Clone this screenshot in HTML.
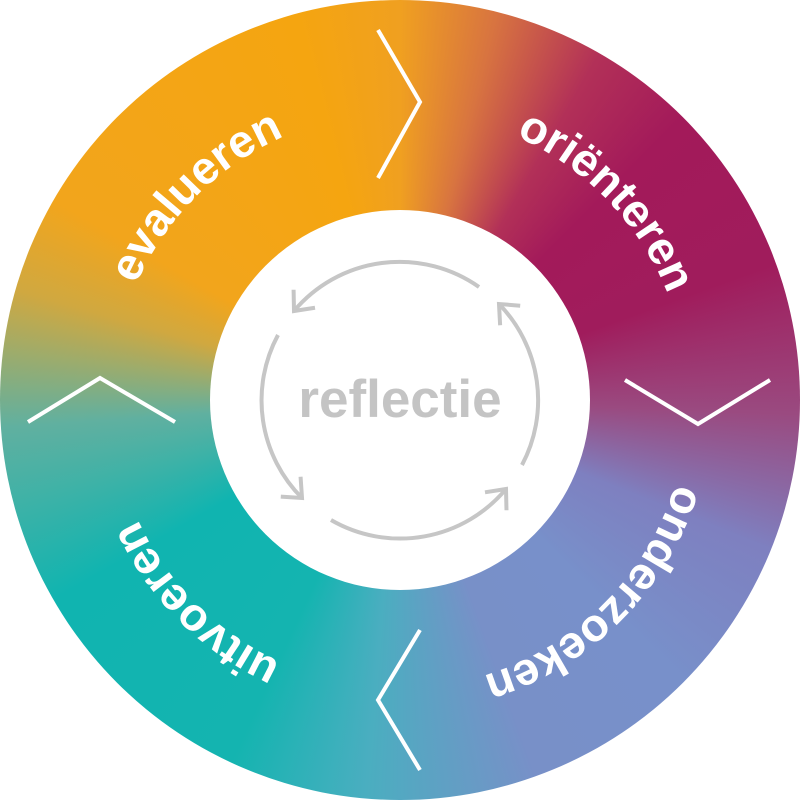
<!DOCTYPE html>
<html><head><meta charset="utf-8"><style>
html,body{margin:0;padding:0;background:#fff;}
.ring{position:absolute;left:0;top:0;width:800px;height:800px;border-radius:50%;
background:conic-gradient(from 0deg,#f0a020 0deg,#d87440 14deg,#b23058 30deg,#a31a5a 45deg,#a01c5c 70deg,#9a4a80 92deg,#7e80c0 112deg,#7890ca 135deg,#7890c8 160deg,#4aaec0 185deg,#14b4b0 205deg,#10b4b0 240deg,#60b0a0 266deg,#d0a840 286deg,#f2a51c 300deg,#f5a510 345deg,#f0a020 360deg);}
svg{position:absolute;left:0;top:0;}
</style></head><body>
<div class="ring"></div>
<svg width="800" height="800" viewBox="0 0 800 800">
<defs>
<path id="c" d="M400,112 A288,288 0 1 1 399.9,112"/>
<marker id="m" markerUnits="userSpaceOnUse" markerWidth="44" markerHeight="44" refX="22" refY="22" orient="auto">
<path d="M6,8 L22,22 L6,36" fill="none" stroke="#c6c6c6" stroke-width="4"/>
</marker>
</defs>
<circle cx="400" cy="400" r="190" fill="#fff"/>
<g fill="none" stroke="#fff" stroke-width="4">
<polyline points="378,30 420,102 378,178"/>
<polyline points="625,380 698,424 770,380"/>
<polyline points="420,630 378,700 420,770"/>
<polyline points="28,422 100,378 175,422"/>
</g>
<g font-family="Liberation Sans, sans-serif" font-weight="bold" font-size="46" fill="#fff" text-anchor="middle">
<text><textPath href="#c" startOffset="87.5%">evalueren</textPath></text>
<text><textPath href="#c" startOffset="12.8%">oriënteren</textPath></text>
<text><textPath href="#c" startOffset="37.5%">onderzoeken</textPath></text>
<text><textPath href="#c" startOffset="62.5%">uitvoeren</textPath></text>
</g>
<g fill="none" stroke="#c6c6c6" stroke-width="4">
<path d="M479,287 A138,138 0 0 0 294,311" marker-end="url(#m)"/>
<path d="M278,335 A138,138 0 0 0 302,498" marker-end="url(#m)"/>
<path d="M331,520 A138,138 0 0 0 506,489" marker-end="url(#m)"/>
<path d="M522,465 A138,138 0 0 0 499,304" marker-end="url(#m)"/>
</g>
<text x="400" y="417" text-anchor="middle" font-family="Liberation Sans, sans-serif" font-weight="bold" font-size="53" fill="#c4c4c4">reflectie</text>
</svg>
</body></html>
